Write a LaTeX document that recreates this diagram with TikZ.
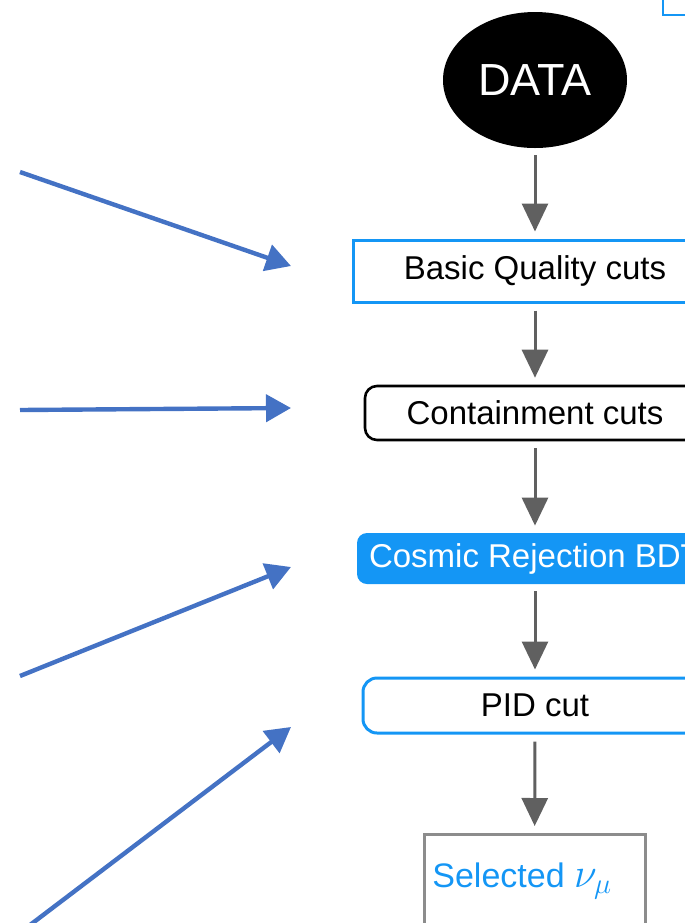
\documentclass[tikz,border=0pt]{standalone}
\usepackage{amsmath}
\usepackage{amssymb}
\usepackage{fontspec}
\setmainfont{Liberation Sans}
\usetikzlibrary{arrows.meta,shapes.geometric,positioning}

\definecolor{boxblue}{RGB}{20,150,245}
\definecolor{arrblue}{RGB}{68,114,196}
\definecolor{arrgray}{RGB}{96,96,96}
\definecolor{selgray}{RGB}{140,140,140}

\begin{document}
\begin{tikzpicture}[x=0.5pt, y=-0.5pt,
    font=\fontsize{16.5}{19}\selectfont,
    cut/.style = {rectangle, minimum height=31pt, inner sep=0pt},
    flow/.style = {-{Triangle[length=14pt,width=13pt]}, arrgray, line width=1.5pt, shorten <=3.5pt, shorten >=3.5pt},
    feed/.style = {-{Triangle[length=12.5pt,width=13.5pt]}, arrblue, line width=2.2pt}]
    \useasboundingbox (0,0) rectangle (685,923);
    \clip (0,0) rectangle (685,923);

    % box cut off at the top right
    \node[draw=boxblue, line width=1pt, rectangle, minimum width=60pt, minimum height=30pt, anchor=south west] (corner) at (662,16) {};

    \node[ellipse, fill=black, text=white, minimum width=92pt, minimum height=68pt, inner sep=0pt, font=\fontsize{22.5}{26}\selectfont] (data) at (535,80) {DATA};
    \node[cut, draw=boxblue, line width=1.5pt, minimum width=182pt] (basic) at (535,271) {Basic Quality cuts};
    \node[cut, draw=black, line width=1.3pt, rounded corners=6pt, minimum width=170pt, minimum height=27pt] (contain) at (535,413) {Containment cuts};
    \node[cut, fill=boxblue, text=white, rounded corners=5pt, minimum width=178pt, minimum height=25.5pt] (cosmic) at (535,558.5) {Cosmic Rejection BDT};
    \node[cut, draw=boxblue, line width=1.5pt, rounded corners=7pt, minimum width=172pt, minimum height=27.5pt] (pid) at (535,705.5) {PID cut};
    \node[draw=selgray, line width=1.5pt, rectangle, minimum width=110.5pt, minimum height=60pt, anchor=north] (sel) at (534.5,833) {};
    \node[anchor=base west, inner sep=0pt, text=boxblue, font=\fontsize{17}{20}\selectfont] (seltext) at (432,887) {Selected {\fontsize{22}{25}\selectfont$\nu_{\mu}$}};

    \draw[flow] (data) -- (basic);
    \draw[flow] (basic) -- (contain);
    \draw[flow] (contain) -- (cosmic);
    \draw[flow] (cosmic) -- (pid);
    \draw[flow] (pid) -- (sel);

    % arrows coming in from the left
    \coordinate (in1) at (20,172);
    \coordinate (in2) at (20,410);
    \coordinate (in3) at (20,676);
    \coordinate (in4) at (30,925);
    \coordinate (to1) at (291,266);
    \coordinate (to2) at (291,408);
    \coordinate (to3) at (291,567);
    \coordinate (to4) at (291,727);
    \foreach \i in {1,...,4}
        \draw[feed] (in\i) -- (to\i);
\end{tikzpicture}
\end{document}
